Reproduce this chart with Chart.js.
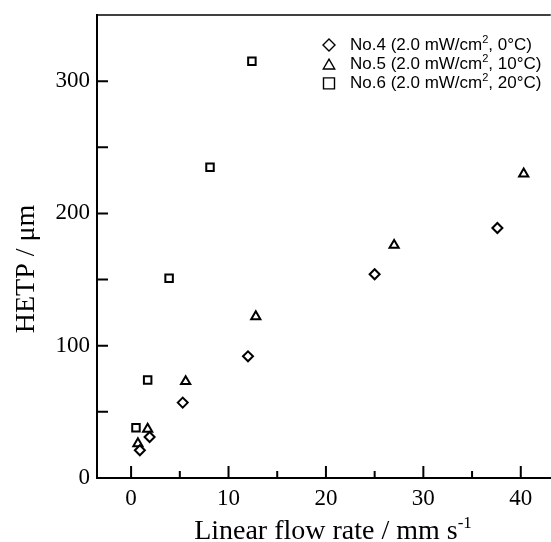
<!DOCTYPE html>
<html>
<head>
<meta charset="utf-8">
<script src="https://cdn.jsdelivr.net/npm/chart.js@4.4.1/dist/chart.umd.min.js"></script>
<style>
    html, body { margin: 0; padding: 0; background: #fff; }
</style>
</head>
<body>
<canvas id="chart" width="551" height="542"></canvas>
<script>
// HETP vs linear flow rate, three columns
const seriesLabels = ['No.4 (2.0 mW/cm², 0°C)', 'No.5 (2.0 mW/cm², 10°C)', 'No.6 (2.0 mW/cm², 20°C)'];
const no4X = [0.9, 1.9, 5.3, 12.0, 25.0, 37.6];
const no4Y = [21, 31, 57, 92, 154, 189];
const no5X = [0.7, 1.7, 5.6, 12.8, 27.0, 40.3];
const no5Y = [26, 37, 73, 122, 176, 230];
const no6X = [0.5, 1.7, 3.9, 8.1, 12.4];
const no6Y = [38, 74, 151, 235, 315];

const xMajorTicks = [0, 10, 20, 30, 40];
const xMinorTicks = [5, 15, 25, 35];
const yMajorTicks = [0, 100, 200, 300];
const yMinorTicks = [50, 150, 250];

const SERIF = '"Liberation Serif", "Times New Roman", serif';
const SANS = '"Liberation Sans", Arial, sans-serif';
const PLOT_RIGHT = 550;

const toPoints = (xs, ys) => xs.map((x, i) => ({ x, y: ys[i] }));

function shapePath(ctx, style, cx, cy, r) {
    ctx.beginPath();
    if (style === 'rectRot') {
        ctx.moveTo(cx - r, cy);
        ctx.lineTo(cx, cy - r);
        ctx.lineTo(cx + r, cy);
        ctx.lineTo(cx, cy + r);
    } else if (style === 'triangle') {
        const h = r * Math.sqrt(3) / 2;
        ctx.moveTo(cx, cy - r);
        ctx.lineTo(cx + h, cy + r / 2);
        ctx.lineTo(cx - h, cy + r / 2);
    } else {
        ctx.rect(cx - r, cy - r, 2 * r, 2 * r);
    }
    ctx.closePath();
}

// text with "²" / "-1" raised
function drawSupText(ctx, parts, x, y, size, supSize, rise, family) {
    let cx = x;
    parts.forEach(([txt, sup]) => {
        ctx.font = `${sup ? supSize : size}px ${family}`;
        ctx.fillText(txt, cx, sup ? y - rise : y);
        cx += ctx.measureText(txt).width;
    });
}
function supWidth(ctx, parts, size, supSize, family) {
    return parts.reduce((w, [txt, sup]) => {
        ctx.font = `${sup ? supSize : size}px ${family}`;
        return w + ctx.measureText(txt).width;
    }, 0);
}

const noPad = (s) => { s.paddingTop = 0; s.paddingBottom = 0; s.paddingLeft = 0; s.paddingRight = 0; };

const frame = {
    id: 'frame',
    afterLayout(chart) {
        // stretch plot area to the right edge like the original figure
        const x = chart.scales.x;
        chart.chartArea.right = PLOT_RIGHT;
        chart.chartArea.width = PLOT_RIGHT - chart.chartArea.left;
        x.right = PLOT_RIGHT;
        x.width = PLOT_RIGHT - x.left;
        x.configure();
    },
    beforeDatasetsDraw(chart) {
        const { ctx, chartArea: a, scales: { x, y } } = chart;
        ctx.save();
        ctx.strokeStyle = '#000';
        ctx.lineCap = 'square';
        ctx.lineWidth = 2;
        ctx.beginPath();
        ctx.moveTo(a.left, a.top);
        ctx.lineTo(a.left, a.bottom);
        ctx.lineTo(a.right, a.bottom);
        ctx.stroke();
        ctx.lineWidth = 1.5;
        ctx.beginPath();
        ctx.moveTo(a.left, a.top);
        ctx.lineTo(a.right, a.top);
        ctx.stroke();

        ctx.lineWidth = 2;
        ctx.lineCap = 'butt';
        ctx.beginPath();
        xMajorTicks.forEach((v) => { const p = x.getPixelForValue(v); ctx.moveTo(p, a.bottom); ctx.lineTo(p, a.bottom - 12); });
        xMinorTicks.forEach((v) => { const p = x.getPixelForValue(v); ctx.moveTo(p, a.bottom); ctx.lineTo(p, a.bottom - 7); });
        yMajorTicks.concat(yMinorTicks).forEach((v) => { const p = y.getPixelForValue(v); ctx.moveTo(a.left, p); ctx.lineTo(a.left + 11, p); });
        ctx.stroke();
        ctx.restore();
    },
    afterDraw(chart) {
        const { ctx } = chart;
        ctx.save();
        ctx.fillStyle = '#000';
        ctx.textBaseline = 'alphabetic';

        // y title
        ctx.save();
        ctx.translate(34, 269);
        ctx.rotate(-Math.PI / 2);
        ctx.textAlign = 'center';
        ctx.font = `28px ${SERIF}`;
        ctx.fillText('HETP / μm', 0, 0);
        ctx.restore();

        // x title
        ctx.textAlign = 'left';
        const xt = [['Linear flow rate / mm s', false], ['-1', true]];
        const w = supWidth(ctx, xt, 28, 17, SERIF);
        drawSupText(ctx, xt, 333 - w / 2, 539, 28, 17, 11, SERIF);

        // legend
        chart.data.datasets.forEach((ds, i) => {
            const cy = 45 + 19.2 * i;
            ctx.strokeStyle = '#000';
            ctx.lineWidth = 1.4;
            const r = ds.pointStyle === 'rect' ? 5.5 : (ds.pointStyle === 'triangle' ? 6.6 : 6);
            shapePath(ctx, ds.pointStyle, 329, ds.pointStyle === 'triangle' ? cy + 1.5 : cy, r);
            ctx.stroke();
            const bits = ds.label.split('²');
            const parts = [[bits[0], false], ['2', true], [bits[1], false]];
            ctx.textBaseline = 'middle';
            drawSupText(ctx, parts, 350, cy, 17, 11, 5, SANS);
        });
        ctx.restore();
    },
};

const pointDefaults = {
    showLine: false,
    borderColor: '#000',
    backgroundColor: '#fff',
    pointBorderWidth: 2,
    pointHoverRadius: 5,
};

new Chart(document.getElementById('chart').getContext('2d'), {
    type: 'scatter',
    plugins: [frame],
    data: {
        datasets: [
            { ...pointDefaults, label: seriesLabels[0], data: toPoints(no4X, no4Y), pointStyle: 'rectRot', pointRadius: 5 },
            { ...pointDefaults, label: seriesLabels[1], data: toPoints(no5X, no5Y), pointStyle: 'triangle', pointRadius: 5.3 },
            { ...pointDefaults, label: seriesLabels[2], data: toPoints(no6X, no6Y), pointStyle: 'rect', pointRadius: 5.3 },
        ],
    },
    options: {
        responsive: false,
        devicePixelRatio: 1,
        animation: false,
        clip: false,
        layout: { padding: { top: 15, right: 1, left: 0, bottom: 0 } },
        plugins: { legend: { display: false }, tooltip: { enabled: false } },
        scales: {
            x: {
                type: 'linear',
                min: -3.5,
                max: 43,
                afterBuildTicks: (s) => { s.ticks = xMajorTicks.map((v) => ({ value: v })); },
                afterFit: (s) => { s.height = 64; noPad(s); },
                grid: { display: false, drawTicks: false },
                border: { display: false },
                ticks: { color: '#000', padding: 7, maxRotation: 0, font: { family: SERIF, size: 23 } },
            },
            y: {
                type: 'linear',
                min: 0,
                max: 350,
                afterBuildTicks: (s) => { s.ticks = yMajorTicks.map((v) => ({ value: v })); },
                afterFit: (s) => { s.width = 97; noPad(s); },
                grid: { display: false, drawTicks: false },
                border: { display: false },
                ticks: { color: '#000', padding: 7, font: { family: SERIF, size: 23 } },
            },
        },
    },
});
</script>
</body>
</html>
